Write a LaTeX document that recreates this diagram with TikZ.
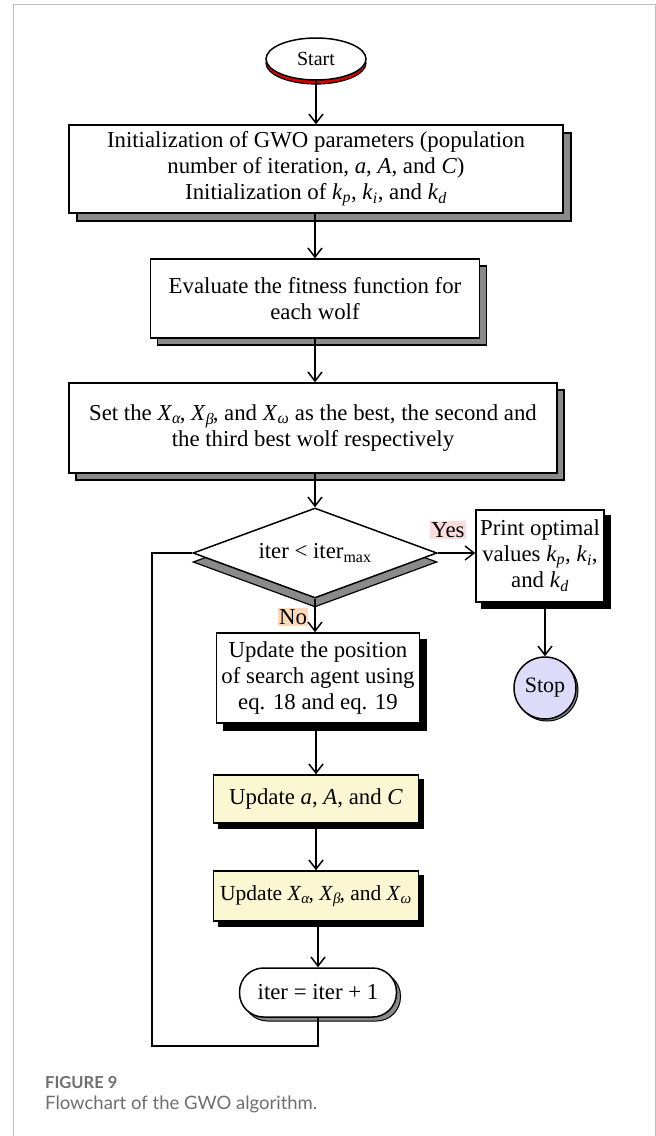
\documentclass[tikz,border=0pt]{standalone}
\usepackage{fontspec}
\setmainfont{Liberation Serif}
\newfontfamily\capfont{Lato}
\usetikzlibrary{shapes.geometric,shadows,arrows.meta}
\definecolor{shadegray}{HTML}{8A8A8A}
\definecolor{stopfill}{HTML}{DCDCF8}
\definecolor{updfill}{HTML}{FBF7D2}
\definecolor{yesbg}{HTML}{FADCDC}
\definecolor{nobg}{HTML}{FCD9B8}
\definecolor{framegray}{HTML}{BDBDBD}
\definecolor{capgray}{HTML}{6E6E6E}
\newcommand{\ital}[1]{\textit{#1}}
\newcommand{\tightsub}[1]{\textsubscript{\ital{#1}}\kern-1.5pt}
\begin{document}
\begin{tikzpicture}[x=1pt,y=-1pt,
  every node/.style={font=\fontsize{22.8}{26}\selectfont},
  proc/.style={draw=black, line width=1.5pt, fill=white, rectangle, align=center, inner sep=0pt},
  grayshadow/.style={copy shadow={shadow xshift=#1, shadow yshift=-#1, fill=shadegray, draw=black, line width=1.2pt}},
  blackshadow/.style={copy shadow={shadow xshift=#1, shadow yshift=-#1, fill=black, draw=black}},
  arr/.style={line width=1.5pt, -{Straight Barb[length=9pt,width=14pt,line width=1.5pt]}},
  link/.style={line width=1.5pt},
  lab/.style={inner sep=1.5pt, font=\fontsize{22.8}{26}\selectfont}
]
\useasboundingbox (0,0) rectangle (656,1136);
% frame
\draw[framegray, line width=1pt] (13,1136) -- (13,4) -- (655,4) -- (655,1136);

% start
\node[ellipse, draw=black, line width=1.5pt, fill=white, minimum width=100pt, minimum height=42pt, inner sep=0pt,
  copy shadow={shadow xshift=0pt, shadow yshift=-4pt, fill=red!85!black, draw=black, line width=1.2pt},
  font=\fontsize{20}{22}\selectfont] (start) at (316,59) {Start};

% box1
\node[proc, grayshadow=8pt, minimum width=494pt, minimum height=88pt] (b1) at (316,169)
  {Initialization of GWO parameters (population\\ number of iteration, \ital{a}, \ital{A}, and \ital{C})\\ Initialization of \ital{k}\textsubscript{\ital{p}}, \ital{k}\textsubscript{\ital{i}}, and \ital{k}\textsubscript{\ital{d}}};

% box2
\node[proc, grayshadow=7pt, minimum width=329pt, minimum height=79pt] (b2) at (315,298.5)
  {Evaluate the fitness function for\\ each wolf};

% box3
\node[proc, grayshadow=7pt, minimum width=488pt, minimum height=90pt] (b3) at (313,428)
  {Set the \ital{X}\tightsub{α}, \ital{X}\tightsub{β}, and \ital{X}\textsubscript{\ital{ω}} as the best, the second and\\ the third best wolf respectively};

% decision
\node[diamond, draw=black, line width=1.5pt, fill=white, minimum width=244pt, minimum height=90pt, inner sep=0pt, aspect=2.7,
  copy shadow={shadow xshift=0pt, shadow yshift=-9pt, fill=shadegray, draw=black, line width=1.2pt}] (dec) at (315,553)
  {iter < iter\textsubscript{max}};

% print box
\node[proc, blackshadow=6pt, minimum width=128pt, minimum height=92pt] (print) at (540,556)
  {Print optimal\\ values \ital{k}\textsubscript{\ital{p}}, \ital{k}\textsubscript{\ital{i}},\\ and \ital{k}\textsubscript{\ital{d}}};

% stop
\node[circle, draw=black, line width=1.5pt, fill=stopfill, minimum size=62pt, inner sep=0pt,
  copy shadow={shadow xshift=2pt, shadow yshift=-2pt, fill=shadegray, draw=black, line width=1pt},
  font=\fontsize{22}{24}\selectfont] (stop) at (545,688) {Stop};

% box4
\node[proc, blackshadow=7pt, minimum width=203pt, minimum height=90pt] (b4) at (318,678)
  {Update the position\\ of search agent using\\ eq. 18 and eq. 19};

% box5
\node[proc, fill=updfill, blackshadow=5pt, minimum width=205pt, minimum height=48pt] (b5) at (316,799)
  {Update \ital{a}, \ital{A}, and \ital{C}};

% box6
\node[proc, fill=updfill, blackshadow=5pt, minimum width=205pt, minimum height=50pt, font=\fontsize{21.5}{25}\selectfont] (b6) at (316,896)
  {Update \ital{X}\tightsub{α}, \ital{X}\tightsub{β}, and \ital{X}\textsubscript{\ital{ω}}};

% terminal
\node[proc, rounded corners=24pt, minimum width=157pt, minimum height=49pt,
  copy shadow={shadow xshift=4pt, shadow yshift=-4pt, fill=shadegray, draw=black, line width=1pt}] (inc) at (318,992.5)
  {iter = iter + 1};

% labels
\node[lab, fill=yesbg] (yes) at (448,530) {Yes};
\node[lab, fill=nobg] (no) at (293,617) {No};

% connectors
\draw[arr] (start.south) -- (start.south |- b1.north);
\draw[arr] (b1.south -| b2.north) -- (b2.north);
\draw[arr] (b2.south) -- (b2.south |- b3.north);
\draw[arr] (b3.south -| dec.north) -- (dec.north);
\draw[arr] (dec.east) -- (dec.east -| print.west);
\draw[arr] (print.south -| stop.north) -- (stop.north);
\draw[arr] (dec.south) -- (dec.south |- b4.north);
\draw[arr] (b4.south -| b5.north) -- (b5.north);
\draw[arr] (b5.south) -- (b6.north);
\draw[arr] (b6.south -| inc.north) -- (inc.north);
\coordinate (lb) at (152,1046);
\draw[link] (inc.south) -- (inc.south |- lb) -- (lb) -- (lb |- dec.west) -- (dec.west);

% caption
\node[anchor=base west, inner sep=0pt, text=capgray, font=\capfont\bfseries\fontsize{16.5}{19}\selectfont] (fig) at (45,1088) {FIGURE 9};
\node[anchor=base west, inner sep=0pt, text=capgray, font=\capfont\fontsize{18.5}{21}\selectfont] (cap) at (45,1109) {Flowchart of the GWO algorithm.};
\end{tikzpicture}
\end{document}
